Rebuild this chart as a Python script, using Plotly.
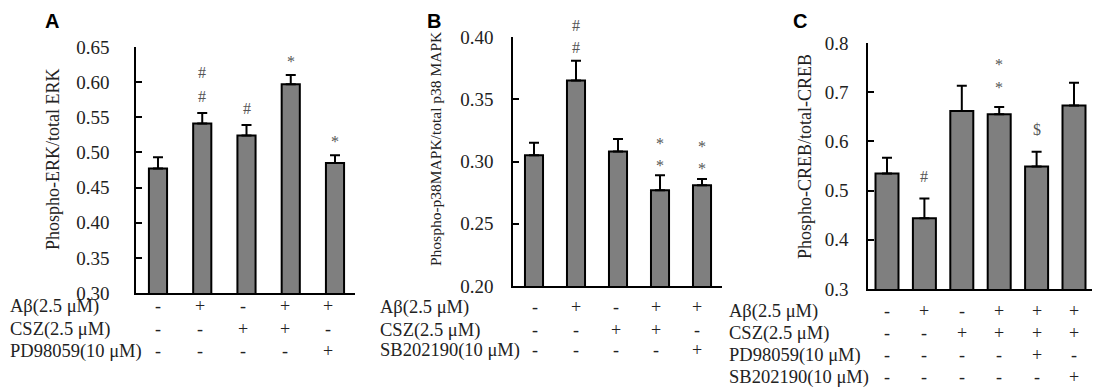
import plotly.graph_objects as go

# ---------------- data ----------------
# Panel A: Phospho-ERK / total ERK
a_means = [0.477, 0.541, 0.524, 0.597, 0.485]
a_errs = [0.016, 0.015, 0.015, 0.013, 0.011]
a_sig = [(1, "#", 0), (1, "#", 1), (2, "#", 0), (3, "*", 0), (4, "*", 0)]
a_rows = ["Aβ(2.5 μM)", "CSZ(2.5 μM)", "PD98059(10 μM)"]
a_table = [["-", "+", "-", "+", "+"],
           ["-", "-", "+", "+", "-"],
           ["-", "-", "-", "-", "+"]]
a_ticks = [0.30, 0.35, 0.40, 0.45, 0.50, 0.55, 0.60, 0.65]

# Panel B: Phospho-p38MAPK / total p38 MAPK
b_means = [0.305, 0.365, 0.308, 0.277, 0.281]
b_errs = [0.010, 0.016, 0.010, 0.012, 0.005]
b_sig = [(1, "#", 0), (1, "#", 1), (3, "*", 0), (3, "*", 1), (4, "*", 0), (4, "*", 1)]
b_rows = ["Aβ(2.5 μM)", "CSZ(2.5 μM)", "SB202190(10 μM)"]
b_table = [["-", "+", "-", "+", "+"],
           ["-", "-", "+", "+", "-"],
           ["-", "-", "-", "-", "+"]]
b_ticks = [0.20, 0.25, 0.30, 0.35, 0.40]

# Panel C: Phospho-CREB / total-CREB
c_means = [0.535, 0.444, 0.662, 0.655, 0.549, 0.673]
c_errs = [0.032, 0.040, 0.051, 0.015, 0.030, 0.046]
c_sig = [(1, "#", 0), (3, "*", 0), (3, "*", 1), (4, "$", 0)]
c_rows = ["Aβ(2.5 μM)", "CSZ(2.5 μM)", "PD98059(10 μM)", "SB202190(10 μM)"]
c_table = [["-", "+", "-", "+", "+", "+"],
           ["-", "-", "+", "+", "+", "+"],
           ["-", "-", "-", "-", "+", "-"],
           ["-", "-", "-", "-", "-", "+"]]
c_ticks = [0.3, 0.4, 0.5, 0.6, 0.7, 0.8]

# ---------------- style ----------------
# the page body has an 8px default margin, so the figure is sized to fill
# the 1100x391 window from that offset
OFF = 8
W, H = 1100 - OFF, 391 - OFF
SERIF = "Liberation Serif"
SANS = "Liberation Sans"
BAR_FILL = "#7f7f7f"
TXT = "#222222"
SIG_COL = "#555555"

def px(x):
    return (x - OFF) / W

def py(y):
    return 1 - (y - OFF) / H

panels = [
    dict(key="", means=a_means, errs=a_errs, sig=a_sig, rows=a_rows, table=a_table,
         ticks=a_ticks, fmt="{:.2f}", xdom=(136, 355), ydom=(47, 293), stand=21,
         xr=(-0.497, 4.452), bw=0.41, title="Phospho-ERK/total ERK", tpos=(53, 159), tsize=18,
         letter="A", lx=52, row_x=8, row_y=[306, 329, 351], sym_scale=0.96, sym_off=0.0,
         sig_base=17, sig_step=24),
    dict(key="2", means=b_means, errs=b_errs, sig=b_sig, rows=b_rows, table=b_table,
         ticks=b_ticks, fmt="{:.2f}", xdom=(513, 722), ydom=(37, 286), stand=14,
         xr=(-0.5, 4.476), bw=0.43, title="Phospho-p38MAPK/total p38 MAPK", tpos=(436, 149), tsize=15.5,
         letter="B", lx=434, row_x=378, row_y=[307, 330, 350], sym_scale=0.96, sym_off=0.03,
         sig_base=13, sig_step=22),
    dict(key="3", means=c_means, errs=c_errs, sig=c_sig, rows=c_rows, table=c_table,
         ticks=c_ticks, fmt="{:.1f}", xdom=(868, 1093), ydom=(43, 289), stand=14,
         xr=(-0.508, 5.508), bw=0.615, title="Phospho-CREB/total-CREB", tpos=(805, 157), tsize=18,
         letter="C", lx=800, row_x=727, row_y=[311, 333, 355, 377], sym_scale=1.0, sym_off=0.0,
         sig_base=22, sig_step=23),
]

fig = go.Figure()
annotations = []
layout = {}

for p in panels:
    k = p["key"]
    n = len(p["means"])
    xs = list(range(n))
    fig.add_trace(go.Bar(
        x=xs, y=p["means"], width=p["bw"],
        marker=dict(color=BAR_FILL, line=dict(color="black", width=2)),
        error_y=dict(type="data", array=p["errs"], arrayminus=[0] * n, symmetric=False,
                     color="black", thickness=2, width=5),
        xaxis="x" + k, yaxis="y" + k, showlegend=False, hoverinfo="y",
    ))
    t = p["ticks"]
    layout["xaxis" + k] = dict(
        domain=[px(p["xdom"][0]), px(p["xdom"][1])], range=list(p["xr"]),
        showline=True, linecolor="black", linewidth=1.5, ticks="", showticklabels=False,
        showgrid=False, zeroline=False, anchor="y" + k, fixedrange=True, automargin=False,
    )
    layout["yaxis" + k] = dict(
        domain=[py(p["ydom"][1]), py(p["ydom"][0])], range=[t[0], t[-1]],
        tickvals=t, ticktext=[p["fmt"].format(v) for v in t],
        showline=True, linecolor="black", linewidth=1.5, ticks="inside", ticklen=6,
        tickwidth=1.5, tickcolor="black", ticklabelstandoff=p["stand"],
        tickfont=dict(family=SERIF, size=19, color=TXT),
        showgrid=False, zeroline=False, anchor="x" + k, fixedrange=True, automargin=False,
    )
    # y title
    annotations.append(dict(
        text=p["title"], x=px(p["tpos"][0]), y=py(p["tpos"][1]), xref="paper", yref="paper",
        textangle=-90, showarrow=False, xanchor="center", yanchor="middle",
        font=dict(family=SERIF, size=p["tsize"], color=TXT),
    ))
    # panel letter (kept inside the figure's top edge)
    annotations.append(dict(
        text="<b>%s</b>" % p["letter"], x=px(p["lx"]), y=1.0,
        xref="paper", yref="paper", showarrow=False, xanchor="center", yanchor="top",
        font=dict(family=SANS, size=20, color="black"),
    ))
    # significance markers
    for (i, s, level) in p["sig"]:
        shift = p["sig_base"] + level * p["sig_step"] - (3 if s == "*" else 0)
        annotations.append(dict(
            text=s, x=i, y=p["means"][i] + p["errs"][i], xref="x" + k, yref="y" + k,
            showarrow=False, xanchor="center", yanchor="middle", yshift=shift,
            font=dict(family=SERIF, size=16, color=SIG_COL),
        ))
    # treatment table
    for r, (lab, vals) in enumerate(zip(p["rows"], p["table"])):
        yy = py(p["row_y"][r])
        annotations.append(dict(
            text=lab, x=px(p["row_x"]), y=yy, xref="paper", yref="paper", showarrow=False,
            xanchor="left", yanchor="middle", font=dict(family=SERIF, size=18.5, color=TXT),
        ))
        for i, v in enumerate(vals):
            annotations.append(dict(
                text=v, x=i * p["sym_scale"] + p["sym_off"], y=yy, xref="x" + k, yref="paper",
                showarrow=False, xanchor="center", yanchor="middle",
                font=dict(family=SERIF, size=18, color=TXT),
            ))

fig.update_layout(
    width=W, height=H, margin=dict(l=0, r=0, t=0, b=0, pad=0, autoexpand=False),
    paper_bgcolor="white", plot_bgcolor="white",
    annotations=annotations, showlegend=False, bargap=0.5,
    **layout,
)

fig.write_html("out.html")
